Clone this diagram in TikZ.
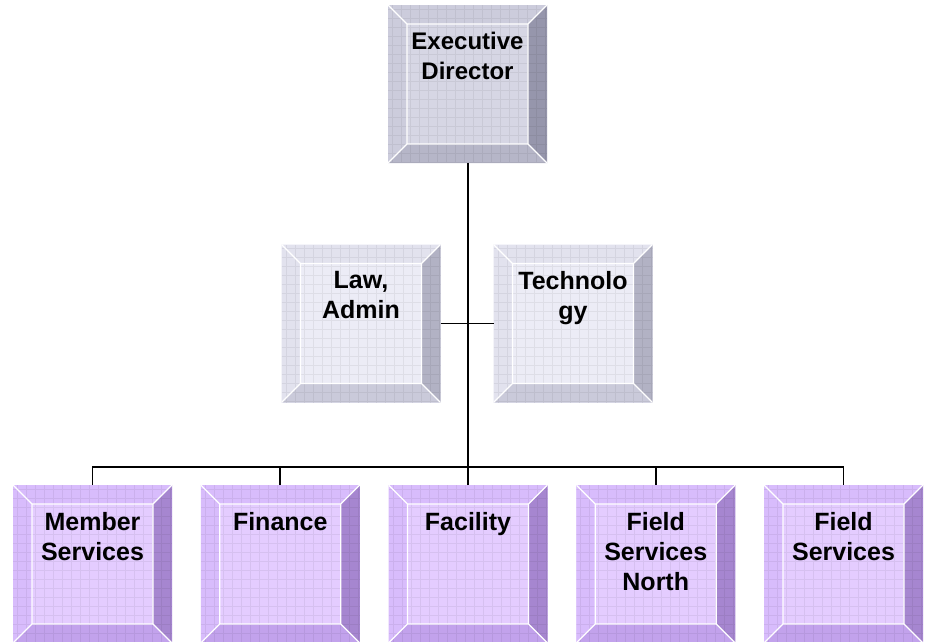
\documentclass[tikz,border=0pt]{standalone}
\usepackage{fontspec}
\setmainfont{Liberation Sans}
\usetikzlibrary{calc}
\definecolor{gface}{RGB}{214,214,228}
\definecolor{gtop}{RGB}{204,204,220}
\definecolor{gright}{RGB}{150,150,172}
\definecolor{gbot}{RGB}{182,182,200}
\definecolor{mface}{RGB}{236,236,246}
\definecolor{mtop}{RGB}{226,226,238}
\definecolor{mright}{RGB}{178,178,196}
\definecolor{mbot}{RGB}{202,202,218}
\definecolor{pface}{RGB}{228,204,255}
\definecolor{ptop}{RGB}{216,188,252}
\definecolor{pright}{RGB}{166,134,208}
\definecolor{pbot}{RGB}{194,162,236}
\tikzset{
  bcface/.store in=\bcface, bctop/.store in=\bctop,
  bcright/.store in=\bcright, bcbot/.store in=\bcbot,
  grayset/.style={bcface=gface,bctop=gtop,bcright=gright,bcbot=gbot},
  midset/.style={bcface=mface,bctop=mtop,bcright=mright,bcbot=mbot},
  purpset/.style={bcface=pface,bctop=ptop,bcright=pright,bcbot=pbot},
  bevelbox/.style={
    rectangle, minimum width=159pt, minimum height=158pt, inner sep=0pt, outer sep=0pt,
    font=\fontsize{25}{30}\selectfont\bfseries,
    path picture={
      \coordinate (pnw) at (path picture bounding box.north west);
      \coordinate (pne) at (path picture bounding box.north east);
      \coordinate (pse) at (path picture bounding box.south east);
      \coordinate (psw) at (path picture bounding box.south west);
      \coordinate (qnw) at ([shift={(19pt,-19pt)}]pnw);
      \coordinate (qne) at ([shift={(-19pt,-19pt)}]pne);
      \coordinate (qse) at ([shift={(-19pt,19pt)}]pse);
      \coordinate (qsw) at ([shift={(19pt,19pt)}]psw);
      \fill[\bcface] (pnw) rectangle (pse);
      \fill[\bctop] (pnw) -- (pne) -- (qne) -- (qnw) -- cycle;
      \fill[\bctop] (pnw) -- (qnw) -- (qsw) -- (psw) -- cycle;
      \fill[\bcright] (pne) -- (pse) -- (qse) -- (qne) -- cycle;
      \fill[\bcbot] (psw) -- (qsw) -- (qse) -- (pse) -- cycle;
      \draw[black, opacity=0.06, line width=0.8pt, step=9pt] (pnw) grid (pse);
      \draw[white, line width=1.3pt] (qnw) rectangle (qse)
        (pnw) -- (qnw) (pne) -- (qne) (pse) -- (qse) (psw) -- (qsw);
    }
  },
  conn/.style={draw=black, line width=1.6pt}
}
\newcommand\boxtext[1]{\parbox[c][104pt][t]{150pt}{\centering #1}}
\begin{document}
\begin{tikzpicture}[x=1pt,y=-1pt]
\useasboundingbox (0,0) rectangle (926,641);
\clip (0,0) rectangle (926,641);
\fill[white] (0,0) rectangle (926,641);
\node[bevelbox, grayset, font=\fontsize{24}{30}\selectfont\bfseries] (ed) at (467.5,84) {\boxtext{Executive\\Director}};
\node[bevelbox, midset] (law) at (361,323.5) {\boxtext{Law,\\Admin}};
\node[bevelbox, midset] (tech) at (573,323.5) {\boxtext{Technolo\\gy}};
\node[bevelbox, purpset] (ms) at (92.5,564) {\boxtext{Member\\Services}};
\node[bevelbox, purpset] (fin) at (280.25,564) {\boxtext{Finance}};
\node[bevelbox, purpset] (fac) at (468,564) {\boxtext{Facility}};
\node[bevelbox, purpset] (fsn) at (655.75,564) {\boxtext{Field\\Services\\North}};
\node[bevelbox, purpset] (fs) at (843.5,564) {\boxtext{Field\\Services}};
\coordinate (hub) at (468,467);
\draw[conn] (ed.south -| hub) -- (hub);
\draw[conn] (law.east) -- (tech.west);
\draw[conn] (ms.north) -- (ms.north |- hub) -- (fs.north |- hub) -- (fs.north);
\draw[conn] (fin.north) -- (fin.north |- hub);
\draw[conn] (fac.north) -- (fac.north |- hub);
\draw[conn] (fsn.north) -- (fsn.north |- hub);
\end{tikzpicture}
\end{document}
